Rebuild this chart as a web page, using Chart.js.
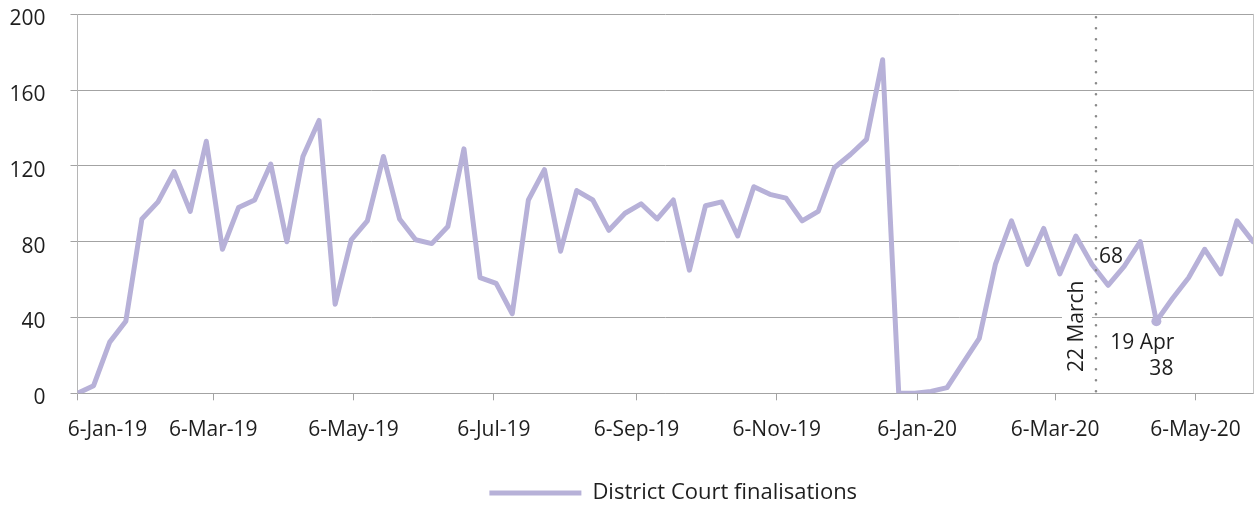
<!DOCTYPE html>
<html>
<head>
<meta charset="utf-8">
<title>District Court finalisations</title>
<script src="https://cdn.jsdelivr.net/npm/chart.js@4.4.1/dist/chart.umd.min.js"></script>
<style>
    body { margin: 0; background: #ffffff; }
    canvas { display: block; }
</style>
</head>
<body>
<canvas id="finalisationsChart" width="1260" height="509"></canvas>
<script>
/** ---------- data ---------- */

const seriesLabel = 'District Court finalisations';
const firstWeek = '2019-01-06';

// one value per week, starting at firstWeek
const weeklyFinalisations = [
    0, 4, 27, 38, 92, 101, 117, 96, 133, 76,
    98, 102, 121, 80, 125, 144, 47, 81, 91, 125,
    92, 81, 79, 88, 129, 61, 58, 42, 102, 118,
    75, 107, 102, 86, 95, 100, 92, 102, 65, 99,
    101, 83, 109, 105, 103, 91, 96, 119, 126, 134,
    176, 0, 0, 1, 3, 16, 29, 68, 91, 68,
    87, 63, 83, 68, 57, 67, 80, 38, 50, 61,
    76, 63, 91, 80
];

const tickDates = ['2019-01-06', '2019-03-06', '2019-05-06', '2019-07-06', '2019-09-06',
    '2019-11-06', '2020-01-06', '2020-03-06', '2020-05-06'];
const tickLabels = ['6-Jan-19', '6-Mar-19', '6-May-19', '6-Jul-19', '6-Sep-19',
    '6-Nov-19', '6-Jan-20', '6-Mar-20', '6-May-20'];

const yMax = 200;
const yStep = 40;

const lockdownDate = '2020-03-22';
const lockdownLabel = '22 March';
const lowPointDate = '2020-04-19';
const lowPointLabel = '19 Apr';

/** ---------- helpers ---------- */

const lineColour = '#b7b1d8';
const gridColour = '#a3a3a3';
const textColour = '#1e1e1e';
const fontFamily = "'Open Sans', 'Noto Sans', sans-serif";

// the first date label is pushed in from the axis, like the original
const firstLabelIndent = ' '.repeat(11);

function dayOf(isoDate) {
    return (Date.parse(isoDate) - Date.parse(firstWeek)) / 86400000;
}

const points = weeklyFinalisations.map((v, i) => ({x: i * 7, y: v}));
const lastDay = (weeklyFinalisations.length - 1) * 7;
const tickDays = tickDates.map(dayOf);

function valueAt(isoDate) {
    const p = points.find(pt => pt.x === dayOf(isoDate));
    return p ? p.y : null;
}

/** ---------- annotation: 22 March line and 19 Apr low point ---------- */

const markersPlugin = {
    id: 'markers',
    beforeDatasetsDraw(chart) {
        const {ctx, chartArea, scales: {x}} = chart;
        const lineX = x.getPixelForValue(dayOf(lockdownDate)) + 4;
        // white patch behind the rotated label hides the grid line
        ctx.save();
        ctx.fillStyle = '#ffffff';
        ctx.fillRect(lineX - 34, chartArea.bottom - 118, 30, 104);
        ctx.restore();
    },
    afterDatasetsDraw(chart) {
        const {ctx, chartArea, scales: {x, y}} = chart;
        const lineX = x.getPixelForValue(dayOf(lockdownDate)) + 4;

        ctx.save();
        ctx.strokeStyle = '#8a8a8a';
        ctx.lineWidth = 2.6;
        ctx.lineCap = 'round';
        ctx.setLineDash([0, 11]);
        ctx.beginPath();
        ctx.moveTo(lineX, chartArea.top + 3);
        ctx.lineTo(lineX, chartArea.bottom + 2);
        ctx.stroke();
        ctx.setLineDash([]);

        ctx.font = `21px ${fontFamily}`;
        ctx.fillStyle = textColour;

        // rotated date label
        ctx.save();
        ctx.translate(lineX - 19, chartArea.bottom - 67);
        ctx.rotate(-Math.PI / 2);
        ctx.textAlign = 'center';
        ctx.textBaseline = 'middle';
        ctx.fillText(lockdownLabel, 0, 0);
        ctx.restore();

        // value at 22 March
        const lockValue = valueAt(lockdownDate);
        ctx.textAlign = 'left';
        ctx.textBaseline = 'alphabetic';
        ctx.fillText(String(lockValue), lineX + 3, y.getPixelForValue(lockValue) - 1);

        // low point label
        const lowValue = valueAt(lowPointDate);
        const lowX = x.getPixelForValue(dayOf(lowPointDate));
        const lowY = y.getPixelForValue(lowValue);
        ctx.textAlign = 'right';
        ctx.fillText(lowPointLabel, lowX + 18, lowY + 28);
        ctx.fillText(String(lowValue), lowX + 17, lowY + 54);

        // right edge of plot area
        ctx.strokeStyle = '#c4c4c4';
        ctx.lineWidth = 1;
        ctx.beginPath();
        ctx.moveTo(Math.round(chartArea.right) + 0.5, chartArea.top);
        ctx.lineTo(Math.round(chartArea.right) + 0.5, chartArea.bottom);
        ctx.stroke();
        ctx.restore();
    }
};

// legend sits a little right of the canvas centre and lower than Chart.js puts it
const legendNudgePlugin = {
    id: 'legendNudge',
    afterLayout(chart) {
        const legend = chart.legend;
        legend.left += 43;
        legend.right += 43;
        legend.top += 5;
        legend.bottom += 5;
    }
};

/** ---------- chart ---------- */

Chart.defaults.font.family = fontFamily;
Chart.defaults.font.size = 21;
Chart.defaults.color = textColour;

const ctx = document.getElementById('finalisationsChart').getContext('2d');
const finalisationsChart = new Chart(ctx, {
    type: 'line',
    data: {
        datasets: [{
            label: seriesLabel,
            data: points,
            borderColor: lineColour,
            backgroundColor: lineColour,
            borderWidth: 5,
            borderJoinStyle: 'round',
            borderCapStyle: 'round',
            tension: 0,
            fill: false,
            pointRadius: c => (c.raw && c.raw.x === dayOf(lowPointDate) ? 5 : 0),
            pointBackgroundColor: lineColour,
            pointBorderWidth: 0
        }]
    },
    options: {
        responsive: false,
        animation: false,
        events: [],
        layout: {
            padding: {left: 7.5, right: 7, top: 14.3, bottom: 0}
        },
        scales: {
            x: {
                type: 'linear',
                min: 0,
                max: lastDay,
                afterBuildTicks: scale => {
                    scale.ticks = tickDays.map(v => ({value: v}));
                },
                afterFit: scale => {
                    scale.height = 73.7;
                    // keep label overhang from moving the plot edges
                    scale.paddingLeft = 0;
                    scale.paddingRight = 0;
                },
                ticks: {
                    autoSkip: false,
                    maxRotation: 0,
                    padding: 17,
                    color: textColour,
                    callback: (value, index) => (index === 0 ? firstLabelIndent : '') + tickLabels[index]
                },
                grid: {
                    drawOnChartArea: false,
                    drawTicks: true,
                    tickLength: 7,
                    color: gridColour
                },
                border: {color: gridColour, width: 1}
            },
            y: {
                min: 0,
                max: yMax,
                afterFit: scale => {
                    scale.width = 70;
                    // tick padding would otherwise push the plot area down
                    scale.paddingTop = 10;
                    scale.paddingBottom = 10;
                },
                ticks: {
                    stepSize: yStep,
                    padding: 25,
                    labelOffset: 5,
                    color: textColour
                },
                grid: {
                    color: gridColour,
                    lineWidth: 1,
                    tickLength: 7
                },
                border: {color: '#b5b5b5', width: 1}
            }
        },
        plugins: {
            tooltip: {enabled: false},
            legend: {
                position: 'bottom',
                labels: {
                    boxWidth: 92,
                    boxHeight: 5,
                    padding: 10,
                    color: textColour,
                    font: {size: 22},
                    generateLabels: chart => Chart.defaults.plugins.legend.labels.generateLabels(chart)
                        .map(item => ({...item, lineWidth: 0, strokeStyle: 'rgba(0,0,0,0)'}))
                }
            }
        }
    },
    plugins: [markersPlugin, legendNudgePlugin]
});
</script>
</body>
</html>
